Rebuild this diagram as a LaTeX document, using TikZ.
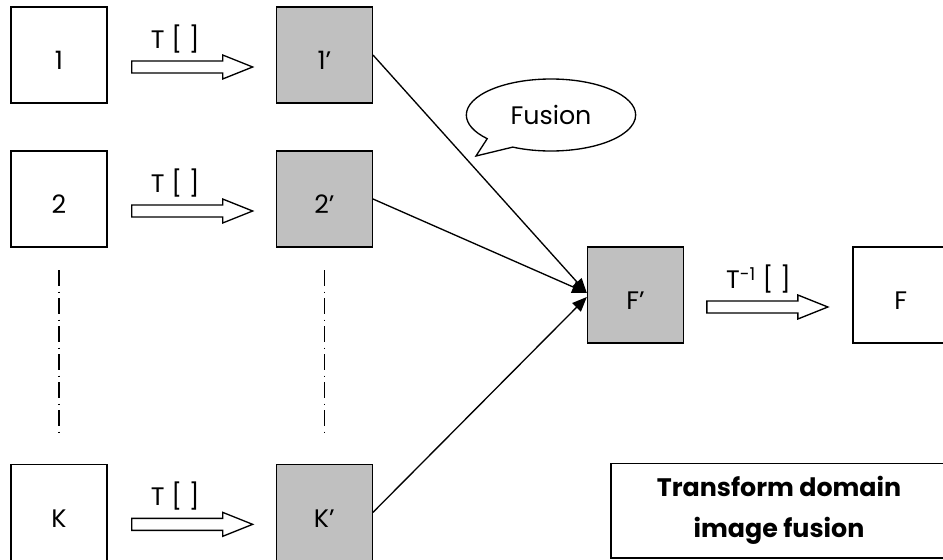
\documentclass[tikz,border=0pt]{standalone}
\usepackage{fontspec}
\setmainfont{Poppins}
\usepackage{tikz}
\usetikzlibrary{shapes.geometric, shapes.callouts, arrows.meta, positioning}
\definecolor{boxgray}{RGB}{192, 192, 192}

\begin{document}
\begin{tikzpicture}[
    x=0.75pt, y=-0.75pt,
    font=\fontsize{19}{22}\selectfont,
    img/.style={draw, line width=1pt, minimum size=72pt, inner sep=0pt,
                text height=22pt, text depth=0pt, fill=white},
    coef/.style={img, fill=boxgray},
    merge/.style={line width=1pt, -{Triangle[length=11pt, width=9pt]}},
    dotrow/.style={line width=0.8pt, dash pattern=on 12pt off 4pt on 1pt off 4pt,
                   shorten <=17pt, shorten >=21pt},
    tarrow/.pic={
        \draw[line width=1pt, fill=white] (0,-6) -- (91,-6) -- (91,-12) -- (121,0)
            -- (91,12) -- (91,6) -- (0,6) -- cycle;
        \node[anchor=west, inner sep=0pt] at (19,-28) {#1};
    }
]
    \useasboundingbox (0,0) rectangle (943,560);

    \node[img] (b1) at (59,55) {1};
    \node[coef, right=126pt of b1] (p1) {1’};
    \node[img, below=35pt of b1] (b2) {2};
    \node[coef, right=126pt of b2] (p2) {2’};
    \node[img, below=162pt of b2] (bK) {K};
    \node[coef, right=126pt of bK] (pK) {K’};
    \node[coef] (Fp) at (635.5,295) {F’};
    \node[img, right=126pt of Fp] (F) {F};

    \pic at ([xshift=18pt, yshift=-9pt]b1.east) {tarrow={T [ ]}};
    \pic at ([xshift=18pt, yshift=-9pt]b2.east) {tarrow={T [ ]}};
    \pic at ([xshift=18pt, yshift=-9pt]bK.east) {tarrow={T [ ]}};
    \pic at ([xshift=17pt, yshift=-9pt]Fp.east) {tarrow={T\textsuperscript{-1} [ ]}};

    \draw[dotrow] (b2.south) -- (bK.north);
    \draw[dotrow] (p2.south) -- (pK.north);

    \draw[merge] (p1.east) -- ([yshift=1.5pt]Fp.west);
    \draw[merge] (p2.east) -- ([yshift=1.5pt]Fp.west);
    \draw[merge] (pK.east) -- ([yshift=-1.5pt]Fp.west);

    \node[ellipse callout, draw, line width=1pt, fill=white, minimum width=127pt,
          minimum height=54pt, callout pointer arc=22,
          callout absolute pointer={(476,156)}] (fuse) at (551,115) {Fusion};

    \node[draw, line width=1pt, minimum width=252pt, minimum height=71pt, align=center,
          font=\fontsize{19}{31}\selectfont\bfseries] (title) at (779,510.5)
        {Transform domain\\image fusion};
\end{tikzpicture}
\end{document}
